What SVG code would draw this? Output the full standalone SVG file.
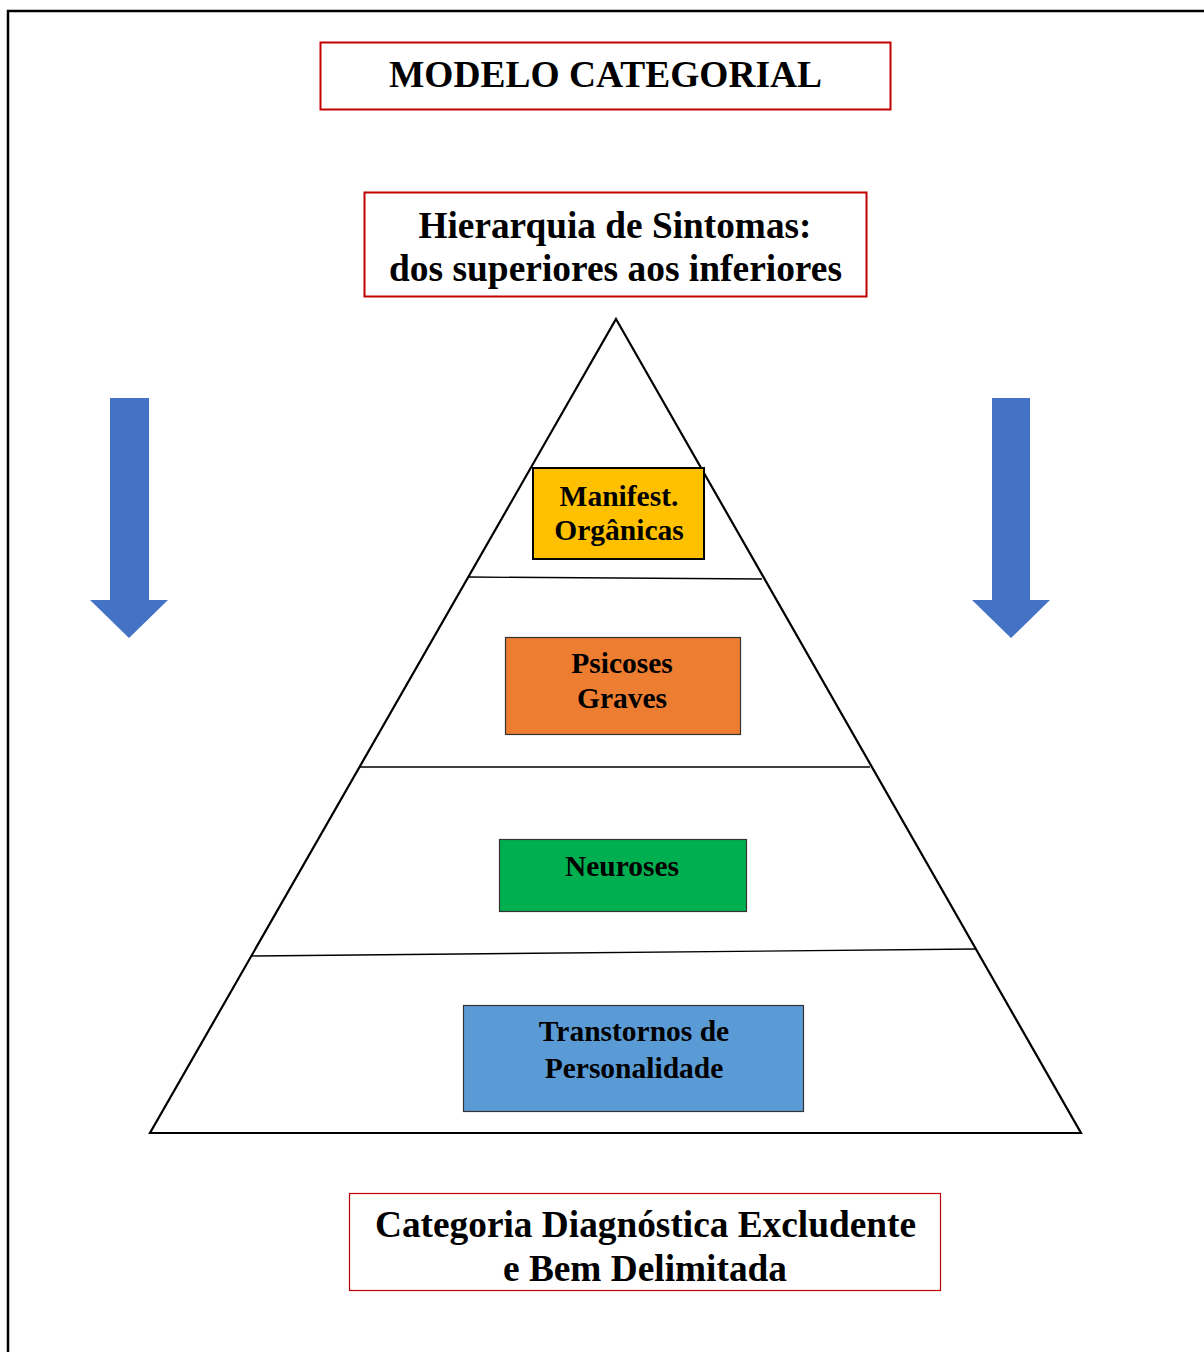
<svg xmlns="http://www.w3.org/2000/svg" width="1204" height="1352" viewBox="0 0 1204 1352">
<style>
text{font-family:"Liberation Serif","Times New Roman",serif;font-weight:bold;fill:#000;text-anchor:middle}
.red{fill:#fff;stroke:#C00000;stroke-width:2}
.t1{font-size:37.5px}
.t2{font-size:37px}
.t3{font-size:29.5px}
.arrow{fill:#4472C4}
.lvl{stroke:#000;stroke-width:1.3;fill:none}
</style>
<rect x="0" y="0" width="1204" height="1352" fill="#fff"/>
<path d="M8 1352 V11 H1204" fill="none" stroke="#000" stroke-width="2.5"/>
<g id="title"><rect class="red" x="320.5" y="42.5" width="570" height="67"/><text class="t1" x="605.5" y="87" textLength="433" lengthAdjust="spacingAndGlyphs">MODELO CATEGORIAL</text></g>
<g id="hierarquia"><rect class="red" x="364.5" y="192.5" width="502" height="104"/><text class="t2" x="615" y="238" textLength="393" lengthAdjust="spacingAndGlyphs">Hierarquia de Sintomas:</text><text class="t2" x="615.5" y="281" textLength="453" lengthAdjust="spacingAndGlyphs">dos superiores aos inferiores</text></g>
<g id="pyramid">
<polygon points="616,319 1081,1133 150,1133" fill="#fff" stroke="#000" stroke-width="2.2"/>
<line class="lvl" x1="469" y1="577" x2="762" y2="579"/>
<line class="lvl" x1="360" y1="767" x2="870" y2="767"/>
<line class="lvl" x1="252" y1="956" x2="975" y2="949"/>
</g>
<g id="manifest"><rect x="533" y="468" width="171" height="91" fill="#FFC000" stroke="#000" stroke-width="2"/><text class="t3" x="619" y="506">Manifest.</text><text class="t3" x="619" y="540">Orgânicas</text></g>
<g id="psicoses"><rect x="505.5" y="637.5" width="235" height="97" fill="#ED7D31" stroke="#333" stroke-width="1.2"/><text class="t3" x="622" y="673">Psicoses</text><text class="t3" x="622" y="708">Graves</text></g>
<g id="neuroses"><rect x="499.5" y="839.5" width="247" height="72" fill="#00B050" stroke="#333" stroke-width="1.2"/><text class="t3" x="622" y="876">Neuroses</text></g>
<g id="transtornos"><rect x="463.5" y="1005.5" width="340" height="106" fill="#5B9BD5" stroke="#333" stroke-width="1.2"/><text class="t3" x="634" y="1041">Transtornos de</text><text class="t3" x="634" y="1078">Personalidade</text></g>
<g id="categoria"><rect x="349.5" y="1193.5" width="591" height="97" fill="#fff" stroke="#C00000" stroke-width="1.2"/><text class="t2" x="645.5" y="1237" textLength="541" lengthAdjust="spacingAndGlyphs">Categoria Diagnóstica Excludente</text><text class="t2" x="645" y="1281" textLength="284" lengthAdjust="spacingAndGlyphs">e Bem Delimitada</text></g>
<g id="connectors">
<polygon class="arrow" points="110,398 149,398 149,600 168,600 129,638 90,600 110,600"/>
<polygon class="arrow" points="992,398 1030,398 1030,600 1050,600 1011,638 972,600 992,600"/>
</g>
</svg>
